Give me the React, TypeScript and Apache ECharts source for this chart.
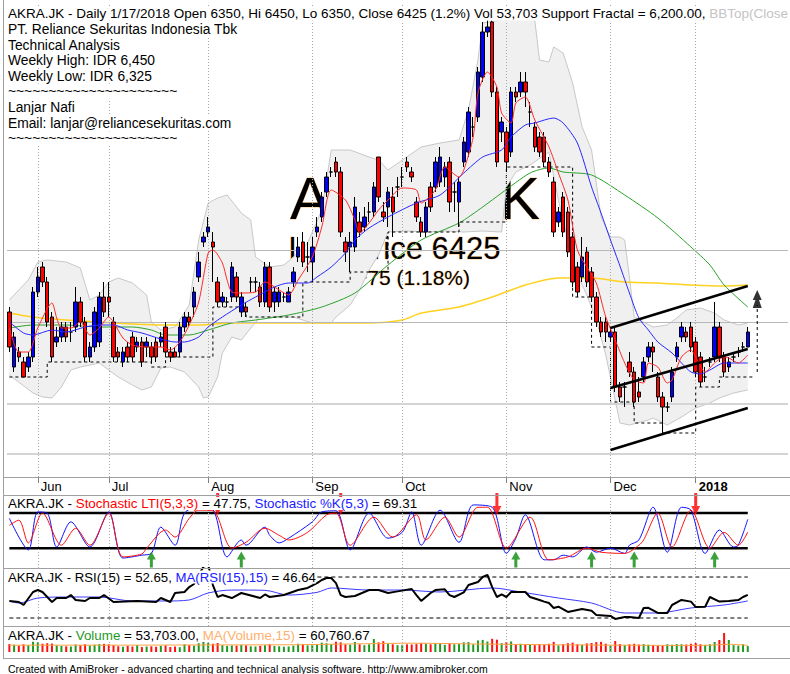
import React, { useEffect, useRef } from "react";
import * as echarts from "echarts";

const FONT = "'Liberation Sans', Arial, Helvetica, sans-serif";

const barCount = 157;
const blankBars = 8;
const categories = Array.from({ length: barCount + blankBars }, (_, i) => `b${i}`);
const monthStarts = [6, 21, 42, 64, 83, 105, 127, 145];
const monthLabels = ["Jun", "Jul", "Aug", "Sep", "Oct", "Nov", "Dec", "2018"];

// [open, close, low, high]
const ohlc = [
  [6525,6350,6325,6550],[6250,6400,6225,6425],[6325,6300,6275,6350],[6275,6200,6200,6300],[6250,6300,6225,6325],
  [6300,6625,6275,6650],[6625,6700,6600,6750],[6750,6675,6650,6775],[6675,6475,6450,6700],[6500,6300,6275,6525],
  [6375,6400,6350,6450],[6400,6450,6375,6475],[6450,6400,6375,6475],[6425,6425,6375,6475],[6450,6575,6425,6650],
  [6575,6475,6450,6600],[6475,6300,6275,6500],[6300,6350,6275,6375],[6350,6525,6325,6550],[6375,6600,6350,6625],
  [6600,6525,6500,6675],[6600,6575,6500,6675],[6475,6300,6275,6500],[6325,6300,6275,6350],[6275,6325,6250,6350],
  [6350,6300,6275,6375],[6400,6300,6275,6425],[6350,6375,6325,6400],[6375,6275,6250,6400],[6350,6375,6300,6400],
  [6350,6300,6275,6375],[6375,6300,6275,6400],[6375,6400,6350,6425],[6450,6325,6300,6475],[6325,6300,6275,6350],
  [6325,6300,6300,6350],[6325,6450,6300,6475],[6450,6500,6425,6525],[6500,6475,6450,6525],[6550,6625,6500,6650],
  [6700,6775,6675,6825],[6875,6900,6850,6925],[6925,6950,6900,7000],[6875,6850,6675,6925],[6675,6575,6550,6700],
  [6575,6600,6550,6625],[6575,6575,6550,6600],[6600,6750,6575,6775],[6700,6600,6575,6725],[6525,6600,6500,6625],
  [6550,6525,6500,6575],[6675,6675,6625,6700],[6675,6675,6625,6700],[6650,6575,6550,6675],[6575,6750,6550,6775],
  [6750,6550,6525,6775],[6575,6625,6525,6650],[6575,6625,6550,6650],[6600,6600,6575,6625],[6575,6625,6575,6650],
  [6675,6725,6650,6750],[6800,6850,6775,6900],[6875,6775,6750,6925],[6800,6800,6725,6875],[6775,6850,6675,6900],
  [6925,6950,6900,7000],[7000,7100,6975,7125],[7125,7200,7100,7225],[7225,7225,7200,7250],[7275,7225,7200,7300],
  [7225,6925,6900,7250],[6875,6825,6775,6900],[6850,6875,6725,6925],[6850,7050,6825,7100],[6975,6925,6900,7025],
  [6950,7000,6925,7050],[7025,7025,6975,7075],[7025,7150,7000,7175],[7300,7100,7075,7300],[7025,7000,6975,7075],
  [7050,7125,6950,7150],[7100,7025,6900,7150],[7150,7150,7100,7200],[7200,7200,7150,7250],[7275,7250,7225,7300],
  [7225,7200,7175,7250],[7075,7000,6975,7100],[6975,6925,6900,7000],[6925,7050,6900,7075],[7150,7050,7025,7175],
  [7150,7275,7125,7300],[7175,7300,7150,7350],[7200,7250,7150,7275],[7275,7075,7025,7300],[7125,7125,7025,7175],
  [7075,7175,6950,7200],[7275,7375,7250,7400],[7325,7525,7300,7550],[7450,7450,7400,7500],[7500,7725,7475,7750],
  [7700,7925,7675,7975],[7925,7950,7900,8000],[7975,7625,7600,8025],[7625,7275,7250,7650],[7425,7475,7375,7500],
  [7425,7275,7225,7450],[7325,7625,7300,7650],[7625,7600,7575,7650],[7625,7675,7600,7725],[7675,7625,7550,7725],
  [7525,7525,7450,7575],[7450,7350,7325,7475],[7400,7325,7300,7425],[7400,7275,7250,7425],[7275,7225,7200,7300],
  [7175,6925,6900,7200],[6975,7025,6950,7050],[7100,6925,6900,7125],[7025,6825,6800,7050],[6900,6675,6650,6925],
  [6750,6625,6600,6775],[6700,6800,6675,6900],[6825,6675,6650,6850],[6725,6600,6575,6750],[6600,6475,6450,6625],
  [6475,6425,6400,6500],[6475,6425,6375,6500],[6400,6425,6375,6450],[6425,6150,6125,6450],[6150,6100,6075,6175],
  [6150,6150,6050,6175],[6275,6225,6200,6325],[6225,6075,6050,6250],[6125,6100,6075,6200],[6200,6275,6175,6300],
  [6300,6350,6275,6375],[6350,6325,6225,6375],[6200,6100,6075,6225],[6100,6050,5925,6125],[6050,6050,6025,6075],
  [6100,6225,6075,6250],[6300,6350,6275,6375],[6400,6450,6375,6475],[6425,6400,6375,6450],[6450,6350,6325,6475],
  [6375,6225,6200,6400],[6300,6175,6150,6325],[6200,6200,6175,6250],[6275,6275,6250,6300],[6300,6450,6275,6575],
  [6450,6300,6275,6475],[6300,6225,6200,6325],[6250,6275,6225,6300],[6300,6300,6275,6325],[6325,6325,6300,6350],
  [6350,6350,6325,6375],[6350,6425,6350,6450],
];

// volume, thousands
const volumeK = [
  72,66,58,70,62,95,88,75,80,77, 60,55,52,50,68,62,70,58,66,72,
  74,70,64,52,48,55,50,62,45,50, 52,48,55,60,45,50,44,70,62,58,
  80,92,85,75,82,62,55,60,58,65, 60,52,50,55,62,70,55,52,48,50,
  58,75,72,60,66,70,85,80,72,96, 88,70,66,92,70,62,70,118,88,98,
  75,70,62,65,70,68,72,82,76,70, 80,78,65,75,70,72,88,90,70,105,
  110,95,120,112,80,90,95,70,75,68, 72,62,70,66,75,92,60,72,80,85,
  70,66,78,82,90,92,76,60,100,72, 62,70,75,68,72,66,62,58,55,70,
  66,72,70,68,75,82,70,64,70,91, 109,173,109,62,58,70,53.7,
];
const volumeMA = [[0,62],[20,62],[40,64],[60,66],[75,75],[85,80],[100,72],[110,68],[120,64],[130,62],[140,60],[148,62],[152,70],[156,60.76]];

const maRed = [[0,6445],[2,6325],[4,6325],[6,6445],[9,6570],[10,6495],[11,6445],[13,6445],[15,6475],[17,6410],[19,6445],[21,6500],[22,6475],[24,6395],[26,6360],[29,6350],[32,6350],[34,6335],[36,6375],[38,6460],[40,6575],[42,6820],[43,6835],[45,6770],[46,6685],[47,6625],[49,6620],[52,6625],[54,6675],[57,6635],[59,6610],[61,6685],[64,6800],[66,6950],[68,7135],[71,7085],[73,6985],[74,6920],[76,6970],[78,7035],[80,7085],[83,7145],[86,7135],[87,7070],[90,7135],[92,7250],[95,7200],[96,7235],[98,7400],[99,7620],[101,7725],[103,7650],[104,7520],[106,7470],[107,7570],[109,7600],[111,7485],[114,7350],[116,7220],[118,7085],[120,6835],[122,6750],[124,6670],[126,6500],[128,6385],[130,6270],[132,6185],[134,6170],[135,6270],[137,6250],[139,6170],[140,6185],[142,6300],[144,6335],[145,6300],[147,6225],[149,6270],[151,6300],[152,6295],[154,6270],[156,6310]];
const maBlue = [[0,6475],[3,6420],[5,6410],[9,6435],[12,6425],[16,6450],[19,6460],[22,6460],[25,6435],[28,6420],[32,6390],[35,6375],[37,6375],[40,6400],[42,6450],[45,6500],[49,6560],[52,6600],[56,6650],[59,6670],[63,6670],[65,6700],[68,6750],[71,6820],[73,6885],[76,6945],[80,7000],[86,7070],[91,7110],[96,7220],[100,7300],[104,7335],[106,7400],[109,7460],[111,7470],[115,7495],[117,7470],[120,7370],[123,7150],[125,7020],[127,6885],[129,6755],[131,6620],[133,6495],[135,6435],[137,6375],[140,6320],[142,6270],[144,6225],[146,6215],[148,6235],[151,6270],[154,6270],[156,6270]];
const maGreen = [[0,6445],[5,6460],[12,6460],[19,6450],[26,6450],[30,6435],[33,6410],[38,6410],[42,6435],[47,6470],[52,6485],[59,6510],[66,6550],[73,6620],[80,6760],[87,6885],[95,6970],[100,7050],[104,7120],[110,7220],[114,7245],[117,7225],[123,7210],[130,7110],[137,6995],[144,6850],[148,6760],[151,6660],[156,6550]];
const maYellow = [[0,6520],[5,6500],[12,6485],[19,6475],[26,6465],[33,6460],[40,6460],[47,6470],[61,6470],[76,6470],[83,6485],[87,6520],[95,6550],[102,6600],[109,6660],[116,6695],[123,6695],[130,6675],[137,6670],[144,6660],[151,6655],[156,6660]];

const bbUpper = [[0,6585],[4,6685],[6,6775],[8,6785],[12,6775],[15,6745],[17,6585],[19,6610],[21,6675],[23,6695],[26,6670],[29,6610],[30,6475],[32,6435],[35,6450],[38,6560],[40,6885],[42,7070],[44,7095],[46,7110],[49,7020],[51,6985],[52,6800],[55,6750],[58,6760],[60,6800],[63,6870],[66,7035],[68,7335],[72,7335],[76,7300],[78,7285],[80,7235],[87,7350],[91,7370],[95,7385],[97,7535],[99,7785],[100,7970],[104,7985],[111,7985],[112,7785],[114,7775],[115,7850],[117,7820],[119,7670],[121,7450],[123,7335],[124,7170],[125,7000],[127,6900],[129,6900],[130,6885],[131,6700],[132,6500],[136,6450],[139,6460],[141,6495],[143,6535],[146,6545],[149,6520],[151,6485],[154,6460],[156,6470]];
const bbLower = [[0,6210],[5,6120],[7,6100],[9,6095],[11,6150],[13,6235],[15,6250],[19,6270],[21,6235],[23,6200],[26,6160],[28,6135],[30,6150],[32,6245],[34,6250],[37,6225],[40,6150],[41,6095],[42,6100],[44,6200],[45,6320],[47,6400],[49,6385],[51,6445],[53,6500],[60,6500],[64,6470],[68,6470],[69,6500],[72,6560],[74,6635],[76,6735],[78,6810],[80,6925],[84,6930],[88,6925],[92,6930],[96,6925],[100,6930],[104,6925],[105,7150],[107,7225],[110,7260],[114,7325],[116,7085],[118,6885],[120,6710],[122,6610],[124,6485],[126,6310],[128,6085],[129,5970],[131,5960],[135,5985],[136,5995],[139,5960],[142,6000],[145,6045],[148,6070],[150,6095],[153,6120],[156,6135]];

const supportFractal = [[0,6200],[8,6275],[30,6250],[33,6300],[43,6550],[50,6500],[62,6675],[72,6725],[80,6925],[95,6975],[105,7250],[119,6600],[123,6350],[127,6075],[132,5970],[138,5920],[145,6150],[150,6200],[157,6200]];
const channelUpper = [[127,6445],[156,6655]];
const channelMiddle = [[127,6145],[156,6340]];
const channelLower = [[127,5835],[156,6045]];
const breakoutArrow = [[158,6225],[158,6560]];
const breakoutHead = [[158,6590]];
const priceLevels = [6835, 6472, 6065, 5815];

const stochK = [[0,71],[4,17],[6,82],[8,80],[10,22],[13,65],[17,22],[21,82],[24,3],[28,8],[30,11],[32,56],[35,25],[37,80],[40,90],[43,86],[46,5],[49,34],[50,25],[54,56],[55,42],[57,29],[59,37],[64,65],[66,82],[69,84],[72,17],[76,80],[80,37],[83,47],[85,82],[87,25],[91,85],[95,30],[98,94],[102,90],[105,11],[107,37],[109,77],[113,0],[115,0],[117,8],[119,5],[122,22],[124,13],[127,20],[130,11],[131,25],[133,34],[136,90],[139,13],[142,90],[144,85],[147,11],[150,51],[153,22],[154,25],[156,69.31]];
const stochLTI = [[0,59],[2,68],[4,29],[7,80],[11,25],[14,54],[17,25],[21,80],[24,5],[28,10],[29,20],[33,51],[35,39],[38,71],[40,85],[43,84],[47,20],[50,30],[54,54],[57,42],[59,34],[63,47],[67,77],[69,80],[72,25],[77,73],[81,39],[86,77],[88,34],[92,73],[95,39],[99,90],[101,90],[105,20],[110,73],[114,0],[118,5],[122,20],[125,13],[130,11],[133,25],[134,34],[137,80],[140,22],[144,85],[148,20],[151,47],[154,25],[156,47.75]];
const stochLevels = [80, 20];
const buySignals = [30, 49, 107, 123, 132, 149];
const sellSignals = [44, 70, 103, 145];

const rsi = [[0,46.6],[2,45.6],[3,42.7],[5,55.4],[6,57.3],[7,55.4],[8,50.5],[9,45.6],[10,49.5],[12,49.5],[13,52.4],[14,47.6],[16,46.6],[17,49.5],[19,49.5],[20,52.4],[22,45.6],[27,46.6],[31,45.6],[32,49.5],[34,45.6],[35,54.4],[37,55.4],[38,60.2],[39,63.2],[40,72],[41,80],[42,82],[43,62.2],[44,50.5],[45,52.4],[47,49.5],[49,54.4],[53,49.5],[54,53],[55,50.5],[58,52.4],[61,57.3],[63,59.3],[65,64.1],[66,67.1],[67,69],[68,69],[69,64.1],[70,52.4],[71,50.5],[73,51.5],[75,55.4],[76,57.3],[78,57.3],[80,54.4],[82,56],[85,58.3],[86,52.4],[87,46.6],[89,54.4],[90,57.3],[92,58],[93,52.4],[94,50.5],[96,55],[97,62.2],[99,65.1],[100,70],[101,72],[102,60.2],[103,50.5],[104,53],[105,50.5],[106,55.4],[109,55.4],[110,50.5],[112,47.6],[113,46],[114,44.6],[115,39.8],[116,41],[118,35.9],[121,38.8],[123,37],[124,32.9],[127,32],[128,29],[130,31],[131,31],[133,30],[134,39.8],[135,40],[137,34.9],[139,34.9],[140,42.7],[142,47.6],[144,46],[145,40.7],[147,41],[148,50.5],[150,46],[152,46.5],[154,47.5],[155,50.5],[156,52.65]];
const rsiMA = [[0,46.6],[2,44.6],[6,49.5],[12,50.5],[19,50.5],[26,46.6],[33,46.6],[38,47.6],[42,54.4],[47,57.3],[54,57],[59,52.4],[65,55],[68,59.3],[76,57.3],[83,57.3],[91,55.4],[102,59.3],[108,55.4],[116,49.5],[123,44.6],[130,34.9],[137,34.9],[144,39.8],[151,42.7],[156,46.64]];
const rsiLevels = [70, 30];

const infoLines = [
  "PT. Reliance Sekuritas Indonesia Tbk",
  "Technical Analysis",
  "Weekly High: IDR 6,450",
  "Weekly Low: IDR 6,325",
  "~~~~~~~~~~~~~~~~~~~~~",
  "Lanjar Nafi",
  "Email: lanjar@reliancesekuritas.com",
  "~~~~~~~~~~~~~~~~~~~~~",
];

const UP_ARROW = "path://M4.5,0L9,8L6,8L6,16L3,16L3,8L0,8Z";
const DOWN_ARROW = "path://M3,0L6,0L6,13L9,13L4.5,22L0,13L3,13Z";
const TREE_ARROW = "path://M5,0L10,10L7,10L10,18L0,18L3,10L0,10Z";

function rt(size: number, color: string, weight = "normal") {
  return { fill: color, fontSize: size, fontFamily: FONT, fontWeight: weight };
}

function textBox(x: number, y: number, text: string, rich?: any, size = 13, bg = "#fff") {
  return {
    type: "text",
    x,
    y,
    z: 50,
    silent: true,
    style: {
      text,
      font: `${size}px ${FONT}`,
      fill: "#000",
      textVerticalAlign: "middle",
      verticalAlign: "middle",
      backgroundColor: bg,
      rich,
    },
  };
}

function watermark(x: number, y: number, text: string, size: number, lineHeight: number) {
  return {
    type: "text",
    x,
    y,
    z: 0,
    silent: true,
    style: {
      text,
      font: `${size}px ${FONT}`,
      lineHeight,
      fill: "#000",
      stroke: "rgba(255,150,30,0.55)",
      lineWidth: 0.8,
      textAlign: "center",
      align: "center",
      textVerticalAlign: "middle",
      verticalAlign: "middle",
    },
  };
}

function lineSeries(name: string, data: number[][], color: string, width: number, axis: number, z: number, extra: any = {}) {
  return {
    name,
    type: "line",
    xAxisIndex: axis,
    yAxisIndex: axis,
    data,
    symbol: "none",
    showSymbol: false,
    smooth: 0.25,
    silent: true,
    z,
    lineStyle: { color, width },
    ...extra,
  };
}

export default function App() {
  const ref = useRef<HTMLDivElement>(null);

  useEffect(() => {
    if (!ref.current) return;
    const chart = echarts.init(ref.current, undefined, { renderer: "svg" });
    const monthLineStyle = { color: "#a8a8a8", type: [1, 2], width: 1 };
    const monthMark = {
      silent: true,
      symbol: ["none", "none"],
      label: { show: false },
      lineStyle: monthLineStyle,
      data: monthStarts.map((i) => ({ xAxis: categories[i] })),
    };
    const isMonth = (i: number) => monthStarts.includes(i);

    const xAxes = [0, 1, 2, 3].map((g) => ({
      type: "category",
      gridIndex: g,
      data: categories,
      boundaryGap: true,
      axisLine: { show: false },
      splitLine: { show: false },
      axisTick:
        g === 0
          ? { show: true, alignWithLabel: true, interval: (i: number) => isMonth(i), length: 6, lineStyle: { color: "#808080" } }
          : { show: false },
      axisLabel:
        g === 0
          ? {
              show: true,
              interval: (i: number) => isMonth(i),
              formatter: (_v: string, i: number) => {
                const k = monthStarts.indexOf(i);
                if (k < 0) return "";
                return k === monthLabels.length - 1 ? `{b|${monthLabels[k]}}` : monthLabels[k];
              },
              align: "left",
              padding: [0, 0, 0, 3],
              margin: 3,
              fontSize: 13,
              fontFamily: FONT,
              color: "#000",
              hideOverlap: false,
              rich: { b: { fontSize: 13, fontFamily: FONT, fontWeight: "bold", color: "#000" } },
            }
          : { show: false },
    }));

    const option: any = {
      animation: false,
      textStyle: { fontFamily: FONT },
      grid: [
        { left: 7, right: 2, top: 3, height: 474 },
        { left: 7, right: 2, top: 495, height: 73 },
        { left: 7, right: 2, top: 568, height: 58 },
        { left: 7, right: 2, top: 630, height: 22 },
      ],
      xAxis: xAxes,
      yAxis: [
        { type: "value", gridIndex: 0, min: 5700, max: 8070, show: false },
        { type: "value", gridIndex: 1, min: -14, max: 111, show: false },
        { type: "value", gridIndex: 2, min: 22.2, max: 78.8, show: false },
        { type: "value", gridIndex: 3, min: 0, max: 200, show: false },
      ],
      series: [
        {
          name: "BB",
          type: "custom",
          xAxisIndex: 0,
          yAxisIndex: 0,
          z: 2,
          silent: true,
          data: [[0, 6500]],
          renderItem: (_p: any, api: any) => {
            const up = bbUpper.map((p) => api.coord(p));
            const lo = bbLower.map((p) => api.coord(p));
            return {
              type: "group",
              children: [
                { type: "polygon", shape: { points: up.concat([...lo].reverse()) }, style: { fill: "#f0f0f0" } },
                { type: "polyline", shape: { points: up }, style: { stroke: "#c8c8c8", lineWidth: 1, fill: null } },
                { type: "polyline", shape: { points: lo }, style: { stroke: "#c8c8c8", lineWidth: 1, fill: null } },
              ],
            };
          },
        },
        {
          name: "grid-main",
          type: "line",
          xAxisIndex: 0,
          yAxisIndex: 0,
          data: [],
          z: 3,
          silent: true,
          markLine: {
            silent: true,
            symbol: ["none", "none"],
            label: { show: false },
            data: [
              ...monthStarts.map((i) => ({ xAxis: categories[i], lineStyle: monthLineStyle })),
              { yAxis: priceLevels[0], lineStyle: { color: "#b8b8b8", type: "solid", width: 1 } },
              { yAxis: priceLevels[1], lineStyle: { color: "#b8b8b8", type: "solid", width: 1 } },
              { yAxis: priceLevels[2], lineStyle: { color: "#d4d4d4", type: "solid", width: 2 } },
              { yAxis: priceLevels[3], lineStyle: { color: "#d4d4d4", type: "solid", width: 2 } },
            ],
          },
        },
        lineSeries("MA200", maYellow, "#ffd21f", 1.5, 0, 4),
        lineSeries("MA50", maGreen, "#2aa12a", 1, 0, 4),
        {
          name: "Support Fractal",
          type: "line",
          xAxisIndex: 0,
          yAxisIndex: 0,
          data: supportFractal,
          step: "end",
          symbol: "none",
          silent: true,
          z: 4,
          lineStyle: { color: "#000", width: 1, type: [3, 3] },
        },
        {
          name: "AKRA.JK",
          type: "candlestick",
          xAxisIndex: 0,
          yAxisIndex: 0,
          data: ohlc,
          barWidth: 4,
          z: 5,
          silent: true,
          itemStyle: {
            color: "#0000ff",
            color0: "#ff0000",
            borderColor: "#000",
            borderColor0: "#000",
            borderColorDoji: "#000",
            borderWidth: 1,
          },
        },
        lineSeries("MA20", maBlue, "#2828ff", 1, 0, 6),
        lineSeries("MA5", maRed, "#ff2a2a", 1, 0, 6),
        lineSeries("chU", channelUpper, "#000", 2.5, 0, 7, { smooth: false }),
        lineSeries("chM", channelMiddle, "#000", 2.5, 0, 7, { smooth: false }),
        lineSeries("chL", channelLower, "#000", 2.5, 0, 7, { smooth: false }),
        lineSeries("arrow", breakoutArrow, "#000", 1, 0, 7, { smooth: false, lineStyle: { color: "#000", width: 1, type: [3, 3] } }),
        {
          name: "arrowHead",
          type: "scatter",
          xAxisIndex: 0,
          yAxisIndex: 0,
          z: 7,
          silent: true,
          symbol: TREE_ARROW,
          symbolSize: [9, 18],
          itemStyle: { color: "#000" },
          data: breakoutHead,
        },
        // stochastic panel
        {
          name: "grid-stoch",
          type: "line",
          xAxisIndex: 1,
          yAxisIndex: 1,
          data: [],
          z: 3,
          markLine: monthMark,
        },
        ...stochLevels.map((lv) =>
          lineSeries(`stoch${lv}`, [[0, lv], [barCount - 1, lv]], "#000", 2.5, 1, 4, { smooth: false })
        ),
        lineSeries("Stochastic %K(5,3)", stochK, "#1010ff", 1, 1, 5, { smooth: 0.3 }),
        lineSeries("Stochastic LTI(5,3,3)", stochLTI, "#ff1010", 1, 1, 6, { smooth: 0.3 }),
        {
          name: "buy",
          type: "scatter",
          xAxisIndex: 1,
          yAxisIndex: 1,
          z: 7,
          silent: true,
          symbol: UP_ARROW,
          symbolSize: [9, 16],
          itemStyle: { color: "#0a8a0a" },
          data: buySignals.map((i) => [i, 0.6]),
        },
        {
          name: "sell",
          type: "scatter",
          xAxisIndex: 1,
          yAxisIndex: 1,
          z: 7,
          silent: true,
          symbol: DOWN_ARROW,
          symbolSize: [9, 22],
          itemStyle: { color: "#ff0000" },
          data: sellSignals.map((i) => [i, 95.6]),
        },
        // RSI panel
        {
          name: "grid-rsi",
          type: "line",
          xAxisIndex: 2,
          yAxisIndex: 2,
          data: [],
          z: 3,
          markLine: monthMark,
        },
        ...rsiLevels.map((lv) =>
          lineSeries(`rsi${lv}`, [[0, lv], [barCount - 1, lv]], "#000", 1, 2, 4, { smooth: false, lineStyle: { color: "#000", width: 1, type: [4, 3] } })
        ),
        lineSeries("MA(RSI(15),15)", rsiMA, "#3a3aff", 1, 2, 5, { smooth: 0.3 }),
        lineSeries("RSI(15)", rsi, "#000", 2, 2, 6, { smooth: false }),
        // volume
        {
          name: "grid-vol",
          type: "line",
          xAxisIndex: 3,
          yAxisIndex: 3,
          data: [],
          z: 3,
          markLine: monthMark,
        },
        {
          name: "Volume",
          type: "bar",
          xAxisIndex: 3,
          yAxisIndex: 3,
          barWidth: 2,
          z: 4,
          silent: true,
          data: volumeK.map((v, i) => ({
            value: v,
            itemStyle: { color: ohlc[i][1] >= ohlc[i][0] ? "#1f9a1f" : "#ff1010" },
          })),
        },
        lineSeries("MA(Volume,15)", volumeMA, "#ffa040", 1, 3, 5, { smooth: 0.3 }),
      ],
      graphic: [
        watermark(415, 198, "AKRA.JK", 60, 46),
        watermark(394.5, 248.5, "Last price 6425", 31, 24),
        watermark(412.5, 277.5, "+75 (1.18%)", 21, 18),
        // frame lines
        { type: "line", z: 60, silent: true, shape: { x1: 3.5, y1: 0, x2: 3.5, y2: 658 }, style: { stroke: "#a0a0a0", lineWidth: 1 } },
        { type: "line", z: 60, silent: true, shape: { x1: 3, y1: 477.5, x2: 790, y2: 477.5 }, style: { stroke: "#a0a0a0", lineWidth: 1 } },
        { type: "line", z: 60, silent: true, shape: { x1: 3, y1: 495.5, x2: 790, y2: 495.5 }, style: { stroke: "#a0a0a0", lineWidth: 1 } },
        { type: "line", z: 60, silent: true, shape: { x1: 3, y1: 568.5, x2: 790, y2: 568.5 }, style: { stroke: "#a0a0a0", lineWidth: 1 } },
        { type: "line", z: 60, silent: true, shape: { x1: 3, y1: 626.5, x2: 790, y2: 626.5 }, style: { stroke: "#a0a0a0", lineWidth: 1 } },
        { type: "line", z: 60, silent: true, shape: { x1: 3, y1: 658.5, x2: 790, y2: 658.5 }, style: { stroke: "#a0a0a0", lineWidth: 1 } },
        // header texts
        textBox(8, 13.8, "{k|AKRA.JK - Daily 1/17/2018 Open 6350, Hi 6450, Lo 6350, Close 6425 (1.2%) Vol 53,703 Support Fractal = 6,200.00, }{g|BBTop(Close}", { k: rt(13.5, "#000"), g: rt(13.5, "#c4c4c4") }, 13.5),
        ...infoLines.map((t, i) => textBox(8, 29.4 + i * 15.6, t, undefined, 13.8)),
        textBox(8, 503.5, "{k|AKRA.JK - }{r|Stochastic LTI(5,3,3)}{k| = 47.75, }{b|Stochastic %K(5,3)}{k| = 69.31}", { k: rt(13.4, "#000"), r: rt(13.4, "#ff0000"), b: rt(13.4, "#2020ff") }, 13.4),
        textBox(8, 577, "{k|AKRA.JK - RSI(15) = 52.65, }{b|MA(RSI(15),15)}{k| = 46.64}", { k: rt(13.2, "#000"), b: rt(13.2, "#2020ff") }, 13.2),
        textBox(8, 635, "{k|AKRA.JK - }{g|Volume}{k| = 53,703.00, }{o|MA(Volume,15)}{k| = 60,760.67}", { k: rt(13.4, "#000"), g: rt(13.4, "#1f9a1f"), o: rt(13.4, "#ffb070") }, 13.4),
        textBox(8, 668.5, "Created with AmiBroker - advanced charting and technical analysis software. http://www.amibroker.com", undefined, 10.5, "transparent"),
      ],
    };
    chart.setOption(option);
    return () => chart.dispose();
  }, []);

  return <div ref={ref} style={{ position: "absolute", left: 0, top: 0, width: 790, height: 674, background: "#fff" }} />;
}
